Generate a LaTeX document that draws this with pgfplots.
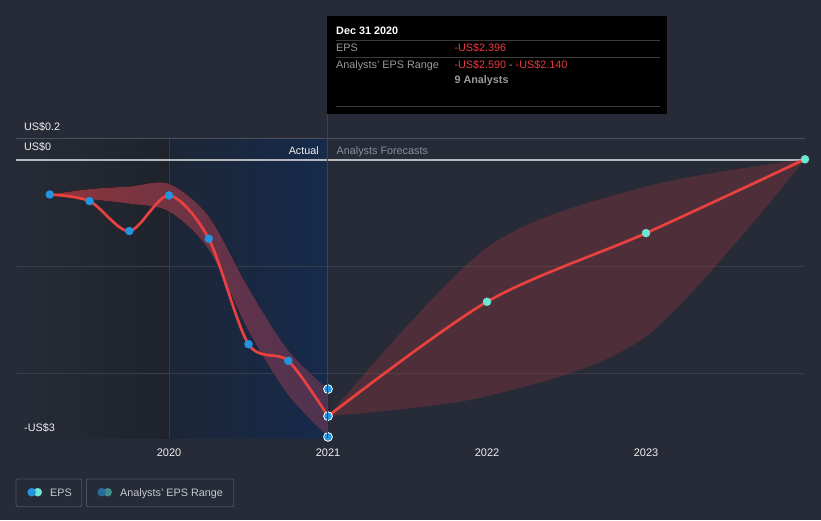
\documentclass[border=0pt]{standalone}
\usepackage{pgfplots}
\pgfplotsset{compat=1.18}
\usepgfplotslibrary{fillbetween}
\usepackage{fontspec}
\setmainfont{Liberation Sans}

\definecolor{bg}{HTML}{262B37}
\definecolor{darkl}{HTML}{1F232B}
\definecolor{blul}{HTML}{1D2637}
\definecolor{blur}{HTML}{162A4B}
\definecolor{vline1}{HTML}{2A3B56}
\definecolor{vline2}{HTML}{2B4670}
\definecolor{gridc}{HTML}{363C48}
\definecolor{gridtop}{HTML}{4B515C}
\definecolor{zeroc}{HTML}{B4B7BB}
\definecolor{axc}{HTML}{4F5562}
\definecolor{redl}{HTML}{E8413F}
\definecolor{epsblue}{HTML}{2394DF}
\definecolor{epsteal}{HTML}{6FE6D3}
\definecolor{rngblue}{HTML}{2A6A9E}
\definecolor{rngteal}{HTML}{3F8C88}
\definecolor{pastL}{HTML}{8E3438}
\definecolor{pastM}{HTML}{833542}
\definecolor{pastR}{HTML}{4C3352}
\definecolor{fcred}{HTML}{B8363C}
\definecolor{txt}{HTML}{EFEFEF}
\definecolor{fcst}{HTML}{8A8F99}
\definecolor{legtxt}{HTML}{C5C8CE}
\definecolor{legbrd}{HTML}{4A505D}
\definecolor{ttgray}{HTML}{9A9A9A}
\definecolor{ttred}{HTML}{EA3B40}
\definecolor{ttsep}{HTML}{3C3C3C}

% actual quarterly EPS
\pgfplotstableread{
x y
2019.25 -0.324
2019.5 -0.386
2019.75 -0.666
2020.0 -0.333
2020.25 -0.738
2020.5 -1.723
2020.75 -1.879
2021.0 -2.396
}\actual

% analyst forecasts
\pgfplotstableread{
x y
2021.0 -2.396
2022.0 -1.327
2023.0 -0.685
2024.0 0.005
}\forecast

% past estimate range
\pgfplotstableread{
x hi lo
2019.25 -0.324 -0.324
2019.5 -0.274 -0.368
2019.75 -0.25 -0.41
2020.0 -0.224 -0.483
2020.25 -0.53 -0.84
2020.5 -1.2 -1.6
2020.75 -1.78 -2.2
2021.0 -2.143 -2.59
}\pastrange

% forecast range
\pgfplotstableread{
x hi lo
2021.0 -2.396 -2.396
2022.0 -0.82 -2.21
2023.0 -0.25 -1.65
2024.0 0.005 0.005
}\fcstrange

\begin{document}
\begin{tikzpicture}
\fill[bg] (0pt,0pt) rectangle (821pt,520pt);
% shaded history panels
\shade[left color=bg, right color=darkl] (16pt,82pt) rectangle (169pt,381pt);
\shade[left color=blul, right color=blur] (169pt,82pt) rectangle (327pt,381pt);
\draw[vline1, line width=0.8pt] (169pt,82pt) -- (169pt,381pt);

\begin{axis}[
    at={(16pt,82pt)}, anchor=south west,
    scale only axis, width=789pt, height=299.6pt,
    xmin=2019.0377, xmax=2024.0, ymin=-2.6, ymax=0.2,
    axis y line=none, axis x line=bottom,
    x axis line style={-, draw=axc, line width=1pt},
    xtick={2020,2021,2022,2023},
    xticklabels={2020,2021,2022,2023},
    tick align=outside, major tick length=4pt,
    xtick style={draw=axc, line width=0.8pt},
    xticklabel style={font=\fontsize{11}{13}\selectfont, text=txt, anchor=base, yshift=-14pt},
    clip=false,
    /tikz/fill between/on layer=main,
]
\draw[gridc, line width=0.8pt] (axis cs:2019.0377,-1) -- (axis cs:2024,-1);
\draw[gridc, line width=0.8pt] (axis cs:2019.0377,-2) -- (axis cs:2024,-2);
\draw[gridtop, line width=0.8pt] (axis cs:2019.0377,0.2) -- (axis cs:2024,0.2);
\draw[zeroc, line width=1.8pt] (axis cs:2019.0377,0) -- (axis cs:2024,0);

\addplot[draw=none, smooth, name path=phi] table[x=x, y=hi] {\pastrange};
\addplot[draw=none, smooth, name path=plo] table[x=x, y=lo] {\pastrange};
\addplot[left color=pastL, middle color=pastM, right color=pastR, draw=none]
    fill between[of=phi and plo];

\addplot[draw=none, smooth, name path=fhi] table[x=x, y=hi] {\fcstrange};
\addplot[draw=none, smooth, name path=flo] table[x=x, y=lo] {\fcstrange};
\addplot[fill=fcred, fill opacity=0.28, draw=none] fill between[of=fhi and flo];

\addplot[redl, line width=2.7pt, smooth] table[x=x, y=y] {\actual};
\addplot[redl, line width=2.7pt, smooth] table[x=x, y=y] {\forecast};

\addplot[only marks, mark=*, mark size=4pt, epsblue, mark options={draw=none}]
    table[x=x, y=y] {\actual};
\addplot[only marks, mark=*, mark size=4pt, epsteal, mark options={draw=none}]
    table[x=x, y=y] {\forecast};
\addplot[only marks, mark=*, mark size=4.4pt, mark options={fill=epsblue, draw=white, line width=0.8pt}]
    coordinates {(2021.0,-2.143) (2021.0,-2.396) (2021.0,-2.59)};
\end{axis}

\draw[vline2, line width=1pt] (327.5pt,82pt) -- (327.5pt,406pt);

% axis value labels
\begin{scope}[every node/.style={font=\fontsize{10.8}{13}\selectfont, inner sep=0pt}]
\node[anchor=base west, text=txt] at (24pt,389pt) {US\$0.2};
\node[anchor=base west, text=txt] at (24pt,369pt) {US\$0};
\node[anchor=base west, text=txt] at (24pt,89pt) {-US\$3};
\node[anchor=base east, text=txt] at (319pt,365pt) {Actual};
\node[anchor=base west, text=fcst] at (336.5pt,365pt) {Analysts Forecasts};
\end{scope}

% tooltip
\fill[black] (327pt,406pt) rectangle (667pt,504pt);
\draw[ttsep, line width=0.8pt] (336pt,480pt) -- (660pt,480pt);
\draw[ttsep, line width=0.8pt] (336pt,462.7pt) -- (660pt,462.7pt);
\draw[ttsep, line width=0.8pt] (336pt,413.7pt) -- (660pt,413.7pt);
\begin{scope}[every node/.style={font=\fontsize{10.8}{13}\selectfont, inner sep=0pt, anchor=base west}]
\node[text=white] at (336pt,485pt) {\bfseries Dec 31 2020};
\node[text=ttgray] at (336pt,468.3pt) {EPS};
\node[text=ttred] at (454.3pt,468.3pt) {-US\$2.396};
\node[text=ttgray] at (336pt,451.7pt) {Analysts' EPS Range};
\node[text=ttred] at (454.3pt,451.7pt) {-US\$2.590\textcolor{ttgray}{~-~}-US\$2.140};
\node[text=ttgray] at (454.3pt,436pt) {\bfseries 9 Analysts};
\end{scope}

% legend
\draw[legbrd, line width=0.9pt, rounded corners=2pt] (16pt,13.3pt) rectangle (81.7pt,41pt);
\draw[legbrd, line width=0.9pt, rounded corners=2pt] (86.3pt,13.3pt) rectangle (233.7pt,41pt);
\fill[epsteal] (37.7pt,27.8pt) circle (4.3pt);
\fill[epsblue] (31.7pt,27.8pt) circle (4.3pt);
\fill[rngteal] (107.7pt,27.8pt) circle (4.3pt);
\fill[rngblue] (101.7pt,27.8pt) circle (4.3pt);
\node[anchor=base west, inner sep=0pt, text=legtxt, font=\fontsize{10.8}{13}\selectfont] at (50pt,24pt) {EPS};
\node[anchor=base west, inner sep=0pt, text=legtxt, font=\fontsize{10.8}{13}\selectfont] at (120pt,24pt) {Analysts' EPS Range};
\end{tikzpicture}
\end{document}
